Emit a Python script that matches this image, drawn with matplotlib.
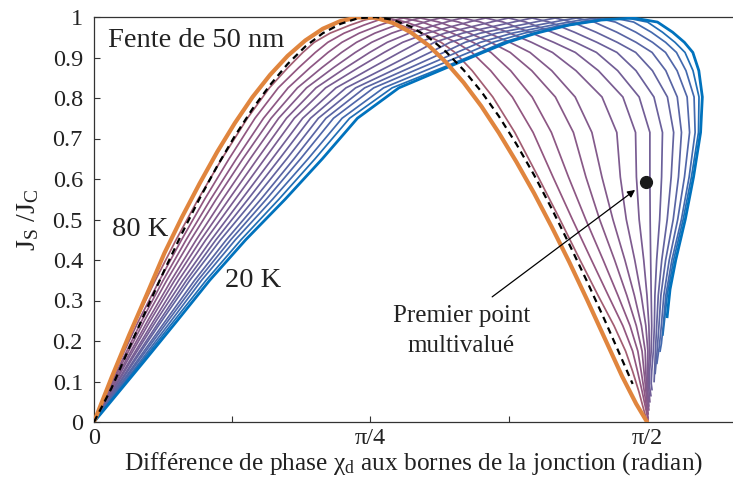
import numpy as np
import matplotlib
matplotlib.use("Agg")
import matplotlib.pyplot as plt
from matplotlib.colors import LinearSegmentedColormap

plt.rcParams['font.family'] = ['Liberation Serif', 'DejaVu Serif']
plt.rcParams['mathtext.fontset'] = 'custom'
plt.rcParams['mathtext.rm'] = 'Liberation Serif'
plt.rcParams['mathtext.it'] = 'Liberation Serif:italic'

# ---------------- data ----------------
temperatures = [76, 72, 68, 64, 60, 56, 52, 48, 44, 40, 36, 32, 28, 24, 20]

# 80 K curve
phase_80K = [0, 0.05, 0.10, 0.15, 0.20, 0.25, 0.30, 0.35, 0.40, 0.45, 0.50, 0.55,
             0.60, 0.65, 0.70, 0.75, 0.80, 0.85, 0.90, 0.95, 1.00, 1.05, 1.10, 1.15,
             1.20, 1.25, 1.30, 1.35, 1.40, 1.45, 1.50, 1.54, 1.571]
current_80K = [0, 0.11, 0.215, 0.315, 0.417, 0.506, 0.589, 0.667, 0.738, 0.802, 0.857,
               0.904, 0.942, 0.971, 0.990, 0.999, 0.998, 0.985, 0.962, 0.930, 0.888,
               0.838, 0.780, 0.714, 0.642, 0.565, 0.482, 0.395, 0.303, 0.208, 0.113,
               0.045, 0.0]

# reference (dashed)
phase_ref = [0, 0.05, 0.10, 0.15, 0.20, 0.25, 0.30, 0.35, 0.40, 0.45, 0.50, 0.55,
             0.60, 0.65, 0.70, 0.75, 0.80, 0.85, 0.90, 0.95, 1.00, 1.05, 1.10, 1.15,
             1.20, 1.25, 1.30, 1.35, 1.40, 1.45, 1.50, 1.53]
current_ref = [0, 0.084, 0.183, 0.280, 0.375, 0.466, 0.552, 0.632, 0.706, 0.773, 0.832,
               0.884, 0.927, 0.960, 0.983, 0.997, 1.000, 0.993, 0.976, 0.950, 0.914,
               0.869, 0.816, 0.755, 0.686, 0.610, 0.527, 0.439, 0.348, 0.253, 0.154,
               0.094]

# other temperatures: phase read at given current levels (rising branch)
rise_levels = [0.2, 0.4, 0.6, 0.8, 0.9, 0.95, 0.99]
rise_phase = [
    [0.091, 0.097, 0.105, 0.111, 0.119, 0.125, 0.134, 0.139, 0.148, 0.153, 0.162, 0.168, 0.176, 0.182, 0.190],
    [0.202, 0.216, 0.227, 0.239, 0.253, 0.264, 0.276, 0.290, 0.301, 0.312, 0.327, 0.338, 0.349, 0.364, 0.375],
    [0.327, 0.347, 0.366, 0.383, 0.403, 0.423, 0.443, 0.463, 0.483, 0.503, 0.523, 0.540, 0.560, 0.579, 0.599],
    [0.472, 0.494, 0.520, 0.543, 0.565, 0.588, 0.611, 0.636, 0.659, 0.682, 0.704, 0.727, 0.753, 0.775, 0.798],
    [0.577, 0.611, 0.645, 0.682, 0.719, 0.758, 0.798, 0.841, 0.886, 0.926, 0.963, 0.997, 1.031, 1.062, 1.070],
    [0.642, 0.682, 0.724, 0.767, 0.812, 0.858, 0.903, 0.949, 0.994, 1.040, 1.085, 1.131, 1.167, 1.196, 1.210],
    [0.756, 0.795, 0.841, 0.889, 0.946, 1.008, 1.074, 1.139, 1.204, 1.267, 1.318, 1.358, 1.386, 1.403, 1.395],
]
peak_phase = [0.807, 0.846, 0.892, 0.940, 0.997, 1.060, 1.125, 1.190, 1.258, 1.324, 1.389, 1.452, 1.508, 1.551, 1.579]

# falling branch
fall_levels = [0.95, 0.9, 0.77, 0.55, 0.35, 0.2, 0.1]
fall_phase = [
    [0.966, 1.006, 1.051, 1.099, 1.153, 1.213, 1.275, 1.338, 1.400, 1.460, 1.517, 1.568, 1.608, 1.636, 1.665],
    [1.045, 1.096, 1.153, 1.210, 1.267, 1.332, 1.398, 1.457, 1.514, 1.565, 1.608, 1.642, 1.670, 1.693, 1.713],
    [1.162, 1.219, 1.275, 1.344, 1.400, 1.480, 1.537, 1.579, 1.616, 1.650, 1.673, 1.699, 1.716, 1.727, 1.733],
    [1.295, 1.332, 1.372, 1.415, 1.457, 1.500, 1.542, 1.579, 1.611, 1.636, 1.656, 1.670, 1.682, 1.687, 1.693],
    [1.409, 1.440, 1.471, 1.500, 1.525, 1.548, 1.568, 1.582, 1.594, 1.605, 1.613, 1.622, 1.628, 1.633, 1.639],
    [1.500, 1.523, 1.540, 1.554, 1.565, 1.574, 1.579, 1.585, 1.591, 1.596, 1.602, 1.608, 1.613, None, None],
    [1.540, 1.551, 1.559, 1.565, 1.568, 1.571, 1.574, 1.576, 1.582, None, None, None, None, None, None],
]
end_phase = [1.571, 1.574, 1.574, 1.574, 1.576, 1.576, 1.579, 1.582, 1.585, 1.591, 1.594, 1.599, 1.608, 1.616, 1.628]
end_current = [0.0, 0.005, 0.01, 0.02, 0.03, 0.04, 0.05, 0.065, 0.08, 0.10, 0.12, 0.145, 0.175, 0.215, 0.26]

first_multivalued = (1.568, 0.593)
arrow_tail = (1.131, 0.309)
arrow_head = (1.537, 0.573)

xtick_vals = [0, np.pi / 8, np.pi / 4, 3 * np.pi / 8, np.pi / 2]
xtick_labels = ['0', '', 'π/4', '', 'π/2']
ytick_vals = [0, 0.1, 0.2, 0.3, 0.4, 0.5, 0.6, 0.7, 0.8, 0.9, 1]
ytick_labels = ['0', '0.1', '0.2', '0.3', '0.4', '0.5', '0.6', '0.7', '0.8', '0.9', '1']


def round_corners(xs, ys):
    """One pass of Chaikin corner cutting (display only, keeps end points)."""
    P = np.column_stack([xs, ys]).astype(float)
    out = [P[0]]
    for a, b in zip(P[:-1], P[1:]):
        out.append(0.75 * a + 0.25 * b)
        out.append(0.25 * a + 0.75 * b)
    out.append(P[-1])
    out = np.array(out)
    return out[:, 0], out[:, 1]


# ---------------- figure ----------------
fig = plt.figure(figsize=(7.33, 4.93), dpi=100)
ax = fig.add_axes([94 / 733, 71 / 493, 639 / 733, 405 / 493])
xmax = 639 / 352.05
ax.set_xlim(0, xmax)
ax.set_ylim(0, 1)

cmap = LinearSegmentedColormap.from_list('tc', [
    (0.0, (224 / 255, 133 / 255, 62 / 255)),
    (0.08, (150 / 255, 85 / 255, 125 / 255)),
    (0.5, (118 / 255, 93 / 255, 148 / 255)),
    (0.85, (75 / 255, 105 / 255, 172 / 255)),
    (1.0, (0 / 255, 114 / 255, 189 / 255)),
])

n = len(temperatures)
for i in range(n):
    xs = [0.0]
    ys = [0.0]
    for lev, row in zip(rise_levels, rise_phase):
        xs.append(row[i]); ys.append(lev)
    xs.append(peak_phase[i]); ys.append(1.0)
    for lev, row in zip(fall_levels, fall_phase):
        if row[i] is None or lev <= end_current[i]:
            continue
        xs.append(row[i]); ys.append(lev)
    xs.append(end_phase[i]); ys.append(end_current[i])
    rx, ry = round_corners(xs, ys)
    t = (i + 1) / n
    lw = 2.0 if i == n - 1 else 1.25
    ax.plot(rx, ry, color=cmap(t), lw=lw, solid_joinstyle='round', zorder=2 + (i == n - 1))

ax.plot(phase_80K, current_80K, color=cmap(0.0), lw=3.0, solid_capstyle='round', zorder=4)
ax.plot(phase_ref, current_ref, color='black', lw=1.6, ls=(0, (3.0, 2.2)), zorder=5)

ax.plot(*first_multivalued, 'o', color='#1a1a1a', markersize=8.5, zorder=6)
ax.annotate('', xy=arrow_head, xytext=arrow_tail,
            arrowprops=dict(arrowstyle='-|>', color='black', lw=0.9, mutation_scale=11,
                            shrinkA=0, shrinkB=0), zorder=6)

ax.text(0.040, 0.926, 'Fente de 50 nm', fontsize=20.5, va='baseline', ha='left', color='#222222')
ax.text(0.051, 0.459, '80 K', fontsize=20.5, va='baseline', ha='left', color='#222222')
ax.text(0.372, 0.333, '20 K', fontsize=20.5, va='baseline', ha='left', color='#222222')
ax.text(1.043, 0.247, 'Premier point', fontsize=18, va='baseline', ha='center', color='#222222')
ax.text(1.043, 0.173, 'multivalué', fontsize=18, va='baseline', ha='center', color='#222222')

ax.set_xticks(xtick_vals)
ax.set_xticklabels(xtick_labels)
ax.set_yticks(ytick_vals)
ax.set_yticklabels(ytick_labels)
ax.tick_params(direction='in', length=4.5, width=0.8, labelsize=17.5, colors='#333333',
               labelcolor='#222222')
ax.tick_params(axis='y', pad=8)
ax.tick_params(axis='x', pad=4)
for s in ['left', 'bottom', 'top']:
    ax.spines[s].set_linewidth(0.9)
    ax.spines[s].set_color('#333333')
ax.spines['right'].set_visible(False)

ax.set_xlabel(r'Différence de phase $\mathregular{\chi_d}$ aux bornes de la jonction (radian)',
              fontsize=18.3, labelpad=1, color='#222222')
ax.set_ylabel(r'J$_\mathregular{S}$ /J$_\mathregular{C}$', fontsize=20, labelpad=8, color='#222222')

fig.savefig('out.png', dpi=100)
